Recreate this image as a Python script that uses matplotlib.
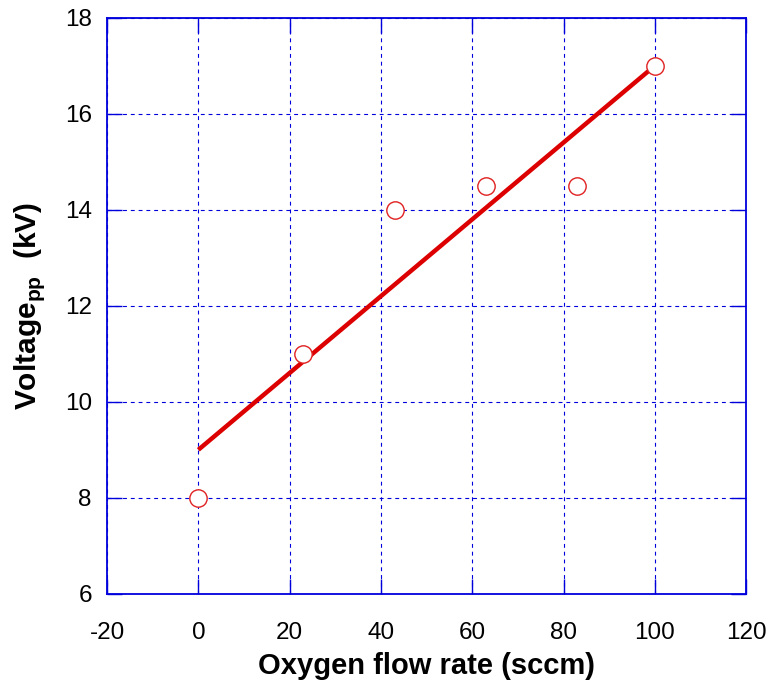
#!/usr/bin/env python3

import matplotlib
matplotlib.use("Agg")
import matplotlib.pyplot as plt

# measured points
flow = [0, 23, 43, 63, 83, 100]
voltage = [8, 11, 14, 14.5, 14.5, 17]

# linear fit line (endpoints)
fit_x = [0, 100]
fit_y = [9, 17]

xticks = [-20, 0, 20, 40, 60, 80, 100, 120]
yticks = [6, 8, 10, 12, 14, 16, 18]


def main():
    plt.rcParams["font.family"] = ["Liberation Sans", "DejaVu Sans"]
    plt.rcParams["mathtext.fontset"] = "custom"
    plt.rcParams["mathtext.rm"] = "Liberation Sans"
    plt.rcParams["mathtext.bf"] = "Liberation Sans:bold"
    plt.rcParams["axes.unicode_minus"] = False

    blue = "#0000dd"
    fig = plt.figure(figsize=(7.7, 6.81), dpi=100)
    ax = fig.add_axes([0.139, 0.128, 0.830, 0.846])

    ax.plot(fit_x, fit_y, color="#dd0000", lw=3.2, solid_capstyle="butt", zorder=3)
    ax.plot(flow, voltage, "o", ms=12.5, mfc="white", mec="#e02020", mew=1.0,
            linestyle="none", zorder=4)

    ax.set_xlim(-20, 120)
    ax.set_ylim(6, 18)
    ax.set_xticks(xticks)
    ax.set_yticks(yticks)
    ax.grid(True, color=blue, lw=0.8, linestyle=(0, (3.5, 3.5)))
    ax.set_axisbelow(True)

    for sp in ax.spines.values():
        sp.set_color(blue)
        sp.set_linewidth(1.3)
    ax.tick_params(direction="in", length=11, width=1.0, color=blue,
                   top=True, right=True, labelsize=17.5)
    ax.tick_params(axis="x", pad=20)
    ax.tick_params(axis="y", pad=11)

    ax.set_xlabel("Oxygen flow rate (sccm)", fontsize=21, fontweight="bold", labelpad=6)
    ax.set_ylabel(r"Voltage$_\mathbf{pp}$  (kV)", fontsize=21.5, fontweight="bold", labelpad=13)

    fig.savefig("out.png", dpi=100)
    plt.close(fig)


if __name__ == "__main__":
    main()
